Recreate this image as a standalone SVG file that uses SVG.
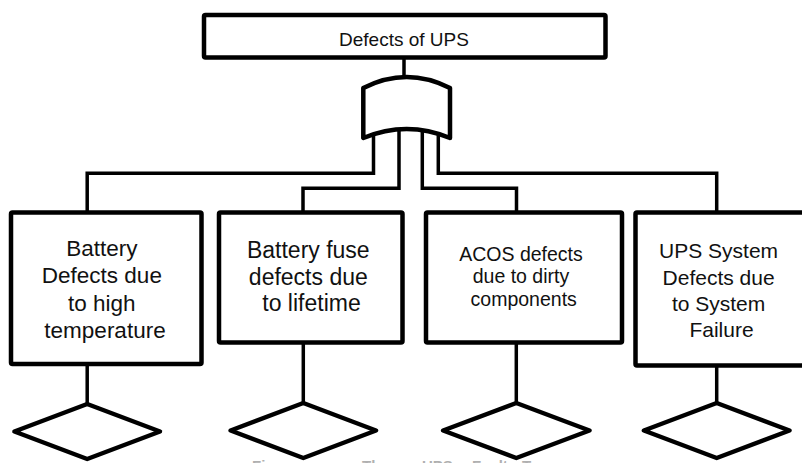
<svg xmlns="http://www.w3.org/2000/svg" width="802" height="463" viewBox="0 0 802 463">
  <style>
    .box { fill: #ffffff; stroke: #000000; stroke-width: 4.5; stroke-linejoin: round; }
    .gate { fill: #ffffff; stroke: #000000; stroke-width: 4.5; stroke-linejoin: round; stroke-linecap: round; }
    .wire { fill: none; stroke: #000000; stroke-width: 3.5; stroke-linejoin: miter; }
    .lbl { font-family: "Liberation Sans", Arial, sans-serif; fill: #111111; text-anchor: middle; }
    .cap { font-family: "Liberation Sans", Arial, sans-serif; font-weight: bold; font-size: 15px; fill: #b0b0b0; }
  </style>

  <rect width="802" height="463" fill="#ffffff"/>

  <!-- connectors: top event to gate, gate to the four causes, causes to their diamonds -->
  <g id="connectors">
    <path class="wire" d="M404,57.5 V80"/>
    <path class="wire" d="M373.5,128 V173.3 H87.2 V212.5"/>
    <path class="wire" d="M399,128 V188.3 H303 V212.5"/>
    <path class="wire" d="M422.3,128 V188.3 H516.5 V212.5"/>
    <path class="wire" d="M438.3,128 V173.3 H716.7 V212.5"/>
    <path class="wire" d="M87.2,364 V404"/>
    <path class="wire" d="M303.3,342.5 V403"/>
    <path class="wire" d="M516.3,342.5 V403"/>
    <path class="wire" d="M716.7,365.5 V403"/>
  </g>

  <!-- top event -->
  <g id="top-event">
    <rect class="box" x="204" y="15" width="401.5" height="42.5" rx="1.5"/>
    <text class="lbl" x="404" y="45.5" font-size="19">Defects of UPS</text>
  </g>

  <!-- OR gate -->
  <g id="or-gate">
    <path class="gate" d="M363.3,88 Q406.7,66 450,88 V138 Q406.7,120 363.3,138 Z"/>
  </g>

  <!-- basic causes -->
  <g id="cause-battery-temp">
    <rect class="box" x="11" y="212.5" width="190.5" height="151.5" rx="1.5"/>
    <text class="lbl" font-size="22.5">
      <tspan x="105" y="256">Battery</tspan>
      <tspan x="105" y="283.3">Defects due</tspan>
      <tspan x="105" y="310.5">to high</tspan>
      <tspan x="105" y="337.7">temperature</tspan>
    </text>
  </g>

  <g id="cause-battery-fuse">
    <rect class="box" x="219" y="212.5" width="183.5" height="130" rx="1.5"/>
    <text class="lbl" font-size="23">
      <tspan x="311.5" y="258">Battery fuse</tspan>
      <tspan x="311.5" y="285">defects due</tspan>
      <tspan x="311.5" y="311">to lifetime</tspan>
    </text>
  </g>

  <g id="cause-acos">
    <rect class="box" x="426" y="212.5" width="196" height="130" rx="1.5"/>
    <text class="lbl" font-size="19.5">
      <tspan x="523.7" y="260.7">ACOS defects</tspan>
      <tspan x="523.7" y="283.2">due to dirty</tspan>
      <tspan x="523.7" y="305.5">components</tspan>
    </text>
  </g>

  <g id="cause-ups-system">
    <rect class="box" x="635.5" y="212.5" width="180" height="153" rx="1.5"/>
    <text class="lbl" font-size="21">
      <tspan x="721.5" y="258.3">UPS System</tspan>
      <tspan x="721.5" y="285">Defects due</tspan>
      <tspan x="721.5" y="311">to System</tspan>
      <tspan x="721.5" y="336.7">Failure</tspan>
    </text>
  </g>

  <!-- undeveloped events -->
  <g id="undeveloped-1">
    <path class="box" d="M87.2,404 L160,431.5 L87.2,459 L14.4,431.5 Z"/>
  </g>
  <g id="undeveloped-2">
    <path class="box" d="M303.3,403 L376,430.5 L303.3,458 L230.6,430.5 Z"/>
  </g>
  <g id="undeveloped-3">
    <path class="box" d="M516.3,403 L589.5,430.5 L516.3,458 L443.1,430.5 Z"/>
  </g>
  <g id="undeveloped-4">
    <path class="box" d="M716.7,403 L789.5,430.5 L716.7,458 L643.9,430.5 Z"/>
  </g>

  <!-- caption, running off the lower edge -->
  <text class="cap" y="471">
    <tspan x="252">Figure</tspan>
    <tspan x="362">The</tspan>
    <tspan x="422">UPS</tspan>
    <tspan x="472">Fault</tspan>
    <tspan x="522">Tree</tspan>
  </text>
</svg>
